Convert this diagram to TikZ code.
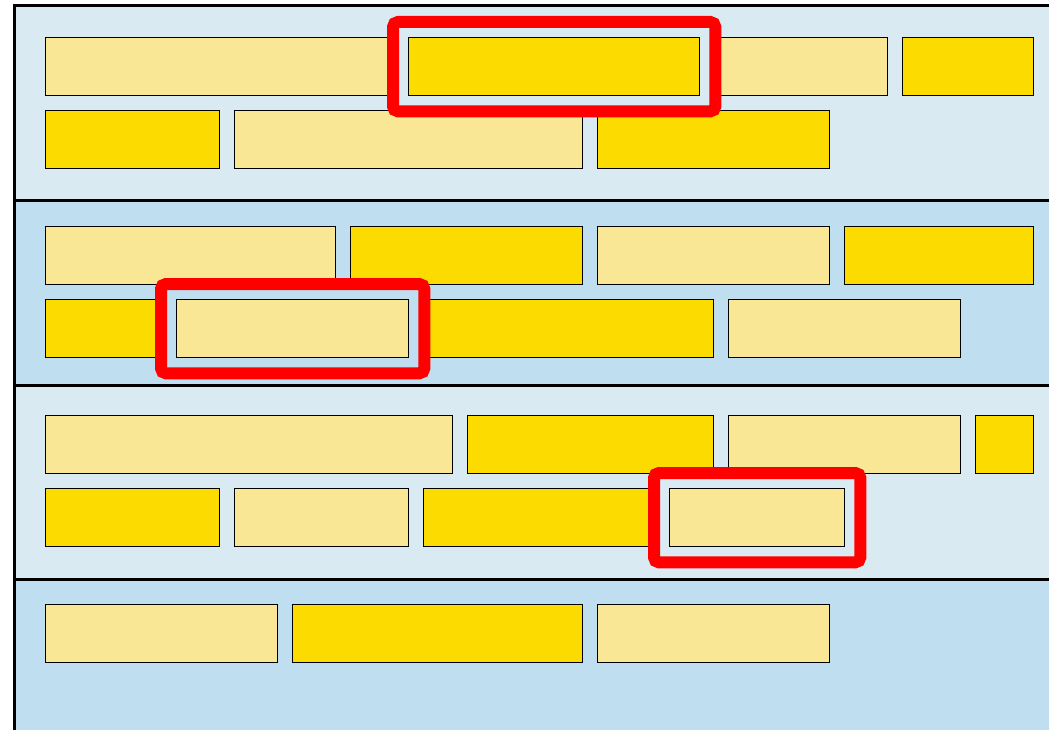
\documentclass[tikz,border=0pt]{standalone}
\usetikzlibrary{fit}
\definecolor{bandA}{HTML}{DAEAF3}
\definecolor{bandB}{HTML}{BFDEF0}
\definecolor{lyel}{HTML}{F9E796}
\definecolor{dyel}{HTML}{FCDB00}
\definecolor{redmark}{HTML}{FF0000}
\tikzset{
  blk/.style={draw=black, line width=1.3pt, minimum height=58pt, inner sep=0pt, anchor=north west, rectangle},
  lb/.style={blk, fill=lyel},
  db/.style={blk, fill=dyel},
  hl/.style={draw=redmark, line width=12pt, rounded corners=5pt, inner sep=15pt, rectangle},
  sep/.style={draw=black, line width=3pt}
}
\begin{document}
\begin{tikzpicture}[x=1pt,y=-1pt]
\useasboundingbox (0,0) rectangle (1049,730);
\clip (0,0) rectangle (1049,730);
% bands
\fill[bandA] (14,5.5) rectangle (1060,201);
\fill[bandB] (14,201) rectangle (1060,385);
\fill[bandA] (14,385) rectangle (1060,579);
\fill[bandB] (14,579) rectangle (1060,740);
\draw[sep] (1060,5.5) -- (14,5.5) -- (14,740);
\draw[sep] (14,201) -- (1060,201);
\draw[sep] (14,385) -- (1060,385);
\draw[sep] (14,579) -- (1060,579);
% band 1
\node[lb, minimum width=348pt] (a1) at (45,37) {};
\node[db, minimum width=291pt] (a2) at (408,37) {};
\node[lb, minimum width=173pt] (a3) at (714,37) {};
\node[db, minimum width=131pt] (a4) at (902,37) {};
\node[db, minimum width=174pt] (a5) at (45,110) {};
\node[lb, minimum width=348pt] (a6) at (234,110) {};
\node[db, minimum width=232pt] (a7) at (597,110) {};
% band 2
\node[lb, minimum width=290pt] (b1) at (45,226) {};
\node[db, minimum width=232pt] (b2) at (350,226) {};
\node[lb, minimum width=232pt] (b3) at (597,226) {};
\node[db, minimum width=189pt] (b4) at (844,226) {};
\node[db, minimum width=116pt] (b5) at (45,299) {};
\node[lb, minimum width=232pt] (b6) at (176,299) {};
\node[db, minimum width=290pt] (b7) at (423,299) {};
\node[lb, minimum width=232pt] (b8) at (728,299) {};
% band 3
\node[lb, minimum width=407pt] (c1) at (45,415) {};
\node[db, minimum width=246pt] (c2) at (467,415) {};
\node[lb, minimum width=232pt] (c3) at (728,415) {};
\node[db, minimum width=58pt] (c4) at (975,415) {};
\node[db, minimum width=174pt] (c5) at (45,488) {};
\node[lb, minimum width=174pt] (c6) at (234,488) {};
\node[db, minimum width=231pt] (c7) at (423,488) {};
\node[lb, minimum width=175pt] (c8) at (669,488) {};
% band 4
\node[lb, minimum width=232pt] (d1) at (45,604) {};
\node[db, minimum width=290pt] (d2) at (292,604) {};
\node[lb, minimum width=232pt] (d3) at (597,604) {};
% highlights
\node[hl, fit=(a2)] (h1) {};
\node[hl, fit=(b6)] (h2) {};
\node[hl, fit=(c8)] (h3) {};
\end{tikzpicture}
\end{document}
